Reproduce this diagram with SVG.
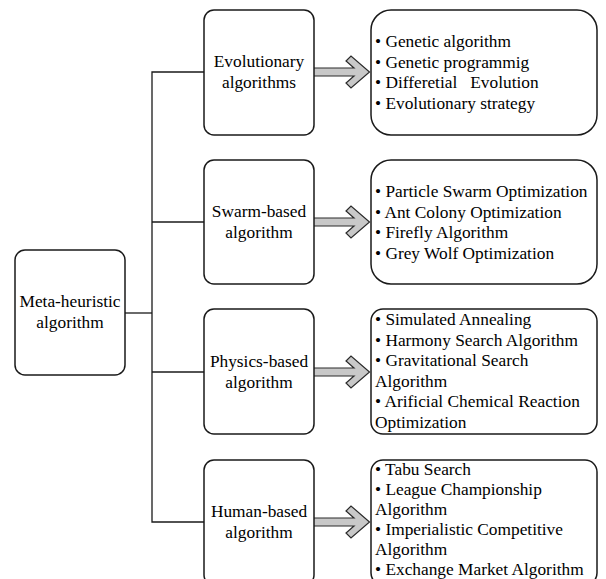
<svg xmlns="http://www.w3.org/2000/svg" xmlns:xlink="http://www.w3.org/1999/xlink" width="606" height="579" viewBox="0 0 606 579">
<style>
.box{fill:#fff;stroke:#1a1a1a;stroke-width:1.5}
text{font-family:'Liberation Serif','Times New Roman',Times,serif;font-size:17.33px;fill:#000}
.c{text-anchor:middle}
.ln{fill:none;stroke:#1a1a1a;stroke-width:1.3}
.arr{fill:#c8c8c8;stroke:#2a2a2a;stroke-width:1.2;stroke-linejoin:miter}
</style>
<defs>
<path id="blockArrow" d="M313,-4 L354,-4 L346,-11 L351,-16 L369.5,0 L351,16 L346,11 L354,4 L313,4 Z"/>
</defs>
<rect width="606" height="579" fill="#fff"/>
<g id="connectors">
<polyline class="ln" points="204,72 152,72 152,522 204,522"/>
<line class="ln" x1="125" y1="313" x2="152" y2="313"/>
<line class="ln" x1="152" y1="222" x2="204" y2="222"/>
<line class="ln" x1="152" y1="372" x2="204" y2="372"/>
<use xlink:href="#blockArrow" class="arr" transform="translate(0,72)"/>
<use xlink:href="#blockArrow" class="arr" transform="translate(0,222)"/>
<use xlink:href="#blockArrow" class="arr" transform="translate(0,372)"/>
<use xlink:href="#blockArrow" class="arr" transform="translate(0,522)"/>
</g>
<g id="meta">
<rect class="box" x="15" y="250" width="110" height="125" rx="10"/>
<text class="c" x="70" y="307">Meta-heuristic</text>
<text class="c" x="70" y="327.5">algorithm</text>
</g>
<g id="evolutionary">
<rect class="box" x="204" y="10" width="110" height="125" rx="10"/>
<text class="c" x="259" y="67">Evolutionary</text>
<text class="c" x="259" y="87.5">algorithms</text>
</g>
<g id="evolutionary-list">
<rect class="box" x="371" y="10" width="226" height="125" rx="20"/>
<text x="375" y="47">• Genetic algorithm</text>
<text x="375" y="67.5">• Genetic programmig</text>
<text x="375" y="88" xml:space="preserve">• Differetial   Evolution</text>
<text x="375" y="108.5">• Evolutionary strategy</text>
</g>
<g id="swarm">
<rect class="box" x="204" y="160" width="110" height="124" rx="10"/>
<text class="c" x="259" y="217">Swarm-based</text>
<text class="c" x="259" y="237.5">algorithm</text>
</g>
<g id="swarm-list">
<rect class="box" x="371" y="160" width="226" height="124" rx="20"/>
<text x="375" y="197">• Particle Swarm Optimization</text>
<text x="375" y="217.5">• Ant Colony Optimization</text>
<text x="375" y="238">• Firefly Algorithm</text>
<text x="375" y="258.5">• Grey Wolf Optimization</text>
</g>
<g id="physics">
<rect class="box" x="204" y="309" width="110" height="125" rx="10"/>
<text class="c" x="259" y="367">Physics-based</text>
<text class="c" x="259" y="387.5">algorithm</text>
</g>
<g id="physics-list">
<rect class="box" x="371" y="309" width="226" height="125" rx="12"/>
<text x="375" y="325">• Simulated Annealing</text>
<text x="375" y="345.5">• Harmony Search Algorithm</text>
<text x="375" y="366">• Gravitational Search</text>
<text x="375" y="386.5">Algorithm</text>
<text x="375" y="407">• Arificial Chemical Reaction</text>
<text x="375" y="427.5">Optimization</text>
</g>
<g id="human">
<rect class="box" x="204" y="460" width="110" height="125" rx="10"/>
<text class="c" x="259" y="517">Human-based</text>
<text class="c" x="259" y="537.5">algorithm</text>
</g>
<g id="human-list">
<rect class="box" x="371" y="460" width="226" height="125" rx="12"/>
<text x="375" y="474.5">• Tabu Search</text>
<text x="375" y="494.5">• League Championship</text>
<text x="375" y="514.5">Algorithm</text>
<text x="375" y="534.5">• Imperialistic Competitive</text>
<text x="375" y="554.5">Algorithm</text>
<text x="375" y="574.5">• Exchange Market Algorithm</text>
</g>
</svg>
